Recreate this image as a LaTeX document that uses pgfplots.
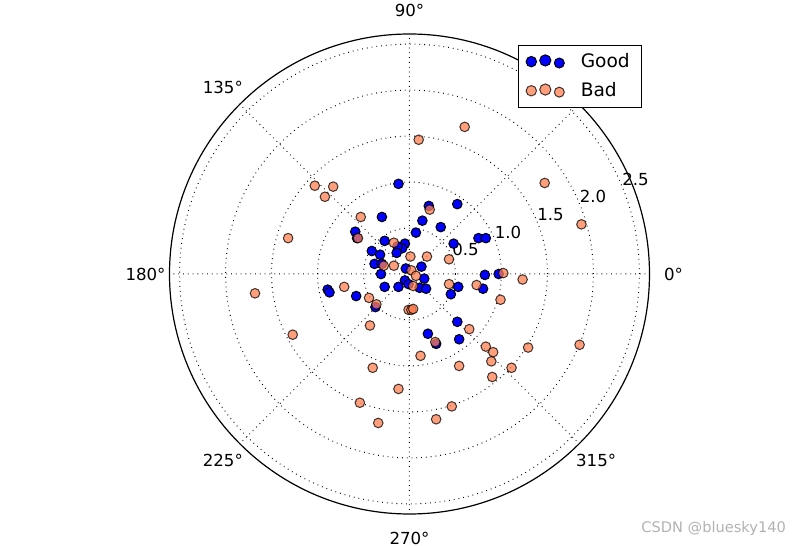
\documentclass[border=0pt]{standalone}
\usepackage{pgfplots}
\pgfplotsset{compat=1.18}
\usepgfplotslibrary{polar}
\usepackage{fontspec}
\setmainfont{DejaVu Sans}
\definecolor{coral}{RGB}{255,127,80}
\begin{document}
\begin{tikzpicture}
\useasboundingbox (0,0) rectangle (400pt,273pt);
\begin{polaraxis}[
  at={(204.75pt,136pt)}, anchor=center,
  scale only axis, width=240pt, height=240pt,
  ymin=0, ymax=2.61,
  xtick={0,45,...,315},
  ytick={0.5,1.0,1.5,2.0,2.5},
  grid=major,
  major grid style={black, dotted, line width=0.5pt},
  separate axis lines,
  x axis line style={black, line width=0.6pt},
  y axis line style={draw=none},
  major tick length=0pt,
  xticklabels={0°,{},90°,135°,180°,225°,270°,315°},
  xticklabel style={anchor=center, inner sep=0pt, font=\fontsize{8.3}{10}\selectfont,
    xshift={12pt*cos(\tick)}, yshift={12pt*sin(\tick)}},
  yticklabel={\pgfmathprintnumber[assume math mode=true,fixed,fixed zerofill,precision=1]{\tick}},
  yticklabel style={anchor=south west, inner sep=0pt, font=\fontsize{8.3}{10}\selectfont,
    xshift={-3.5pt*\tick}, yshift={17.6pt*\tick}},
  legend style={at={(axis description cs:0.985,0.978)}, anchor=north east, draw=black,
    line width=0.5pt, font=\fontsize{9.3}{11}\selectfont, row sep=2pt, inner xsep=4pt},
  legend cell align=left,
  legend image code/.code={%
    \draw[#1,mark size=2.6pt] plot coordinates {(0pt,0pt)};
    \draw[#1,mark size=2.8pt] plot coordinates {(7pt,0.6pt)};
    \draw[#1,mark size=2.5pt] plot coordinates {(14pt,-0.7pt)};
    \path (22.5pt,0pt);
  },
]
\addplot[data cs=cart, only marks, mark=*, mark size=2.4pt,
  mark options={fill=blue, draw=black, line width=0.5pt}] coordinates {
(-0.12,0.98) (0.21,0.74) (0.52,0.76) (-0.30,0.62) (0.14,0.58) (0.34,0.51) (0.07,0.45)
(0.75,0.39) (0.83,0.39) (0.48,0.33) (-0.05,0.33) (-0.08,0.28) (0.82,-0.01) (0.97,0.00)
(0.13,0.08) (-0.04,0.06) (0.16,-0.05) (0.53,-0.14) (0.80,-0.16) (-0.59,0.46) (-0.57,0.39)
(-0.89,-0.17) (-0.87,-0.20) (-0.58,-0.24) (-0.27,0.36) (-0.13,0.30) (-0.41,0.25)
(-0.32,0.21) (-0.14,0.23) (-0.38,0.11) (-0.30,0.11) (-0.31,0.00) (-0.05,-0.07)
(-0.01,-0.11) (0.11,-0.15) (0.18,-0.16) (-0.12,-0.14) (-0.27,-0.14) (-0.37,-0.36)
(0.45,-0.22) (0.52,-0.52) (0.20,-0.65) (0.29,-0.76) (0.54,-0.71)
};
\addlegendentry{Good}
\addplot[data cs=cart, only marks, mark=*, mark size=2.4pt,
  mark options={fill=coral, draw=black, line width=0.5pt, opacity=0.75}] coordinates {
(0.10,1.46) (0.60,1.60) (1.47,0.99) (1.87,0.54) (-1.03,0.96) (-0.83,0.95) (-0.92,0.84)
(-0.53,0.62) (-1.32,0.39) (-1.68,-0.21) (-0.71,-0.14) (-1.27,-0.66) (-0.54,-1.40)
(-0.43,-0.56) (0.28,-0.74) (0.12,-0.89) (-0.40,-1.02) (0.54,-1.00) (-0.12,-1.25)
(0.46,-1.44) (-0.34,-1.62) (0.29,-1.58) (0.65,-0.60) (0.83,-0.79) (0.91,-0.85)
(0.89,-0.95) (0.90,-1.12) (1.11,-1.02) (1.29,-0.80) (1.85,-0.77) (1.02,0.01)
(1.23,-0.06) (0.73,-0.12) (0.99,-0.28) (0.43,0.16) (0.19,0.19) (0.01,0.19) (0.22,0.70)
(0.43,-0.11) (0.04,-0.13) (-0.56,0.39) (-0.17,0.34) (-0.28,0.09) (-0.17,0.09)
(0.02,0.04) (0.07,-0.02) (-0.44,-0.26) (-0.36,-0.33) (-0.01,-0.39) (0.02,-0.39) (0.04,-0.38)
};
\addlegendentry{Bad}
\end{polaraxis}
\node[text=gray!60, font=\fontsize{7.3}{9}\selectfont, anchor=east] at (396.5pt,9pt) {CSDN @bluesky140};
\end{tikzpicture}
\end{document}
